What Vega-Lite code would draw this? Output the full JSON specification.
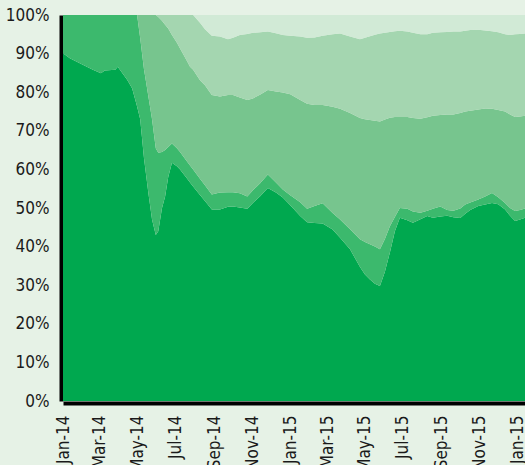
{
  "$schema": "https://vega.github.io/schema/vega-lite/v6.json",
  "width": 462,
  "height": 386,
  "autosize": {"type": "none"},
  "padding": {"left": 63, "top": 15, "right": 0, "bottom": 64},
  "background": "#e6f2e6",
  "config": {
    "view": {"stroke": null},
    "font": "DejaVu Sans Condensed, Liberation Sans Narrow, Arial Narrow, sans-serif",
    "axis": {"labelFont": "DejaVu Sans Condensed, Liberation Sans Narrow, Arial Narrow, sans-serif", "labelColor": "#1a1a1a", "grid": false, "ticks": false, "domainColor": "#000000", "domainWidth": 4}
  },
  "data": {
    "values": [
      {"date": "2014-01-01", "a": 90.1, "b": 9.9, "c": 0, "d": 0, "e": 0},
      {"date": "2014-01-12", "a": 88.8, "b": 11.2, "c": 0, "d": 0, "e": 0},
      {"date": "2014-01-28", "a": 87.5, "b": 12.5, "c": 0, "d": 0, "e": 0},
      {"date": "2014-02-18", "a": 85.8, "b": 14.2, "c": 0, "d": 0, "e": 0},
      {"date": "2014-03-03", "a": 84.9, "b": 15.1, "c": 0, "d": 0, "e": 0},
      {"date": "2014-03-09", "a": 85.6, "b": 14.4, "c": 0, "d": 0, "e": 0},
      {"date": "2014-03-26", "a": 85.8, "b": 14.2, "c": 0, "d": 0, "e": 0},
      {"date": "2014-03-30", "a": 86.6, "b": 13.4, "c": 0, "d": 0, "e": 0},
      {"date": "2014-04-14", "a": 83.2, "b": 16.8, "c": 0, "d": 0, "e": 0},
      {"date": "2014-04-22", "a": 81.0, "b": 19.0, "c": 0, "d": 0, "e": 0},
      {"date": "2014-04-30", "a": 76.3, "b": 23.7, "c": 0, "d": 0, "e": 0},
      {"date": "2014-05-05", "a": 73.0, "b": 21.0, "c": 6.0, "d": 0, "e": 0},
      {"date": "2014-05-11", "a": 63.0, "b": 23.0, "c": 14.0, "d": 0, "e": 0},
      {"date": "2014-05-18", "a": 54.0, "b": 25.0, "c": 21.0, "d": 0, "e": 0},
      {"date": "2014-05-24", "a": 47.0, "b": 26.0, "c": 27.0, "d": 0, "e": 0},
      {"date": "2014-05-30", "a": 43.0, "b": 22.5, "c": 34.5, "d": 0, "e": 0},
      {"date": "2014-06-03", "a": 44.0, "b": 20.3, "c": 35.2, "d": 0.5, "e": 0},
      {"date": "2014-06-09", "a": 50.0, "b": 14.5, "c": 34.0, "d": 1.5, "e": 0},
      {"date": "2014-06-14", "a": 53.0, "b": 12.0, "c": 32.5, "d": 2.5, "e": 0},
      {"date": "2014-06-19", "a": 58.0, "b": 7.8, "c": 30.7, "d": 3.5, "e": 0},
      {"date": "2014-06-25", "a": 61.7, "b": 5.0, "c": 28.1, "d": 5.2, "e": 0},
      {"date": "2014-07-03", "a": 60.8, "b": 4.7, "c": 27.3, "d": 7.2, "e": 0},
      {"date": "2014-07-08", "a": 60.0, "b": 4.5, "c": 26.8, "d": 8.7, "e": 0},
      {"date": "2014-07-18", "a": 57.9, "b": 4.4, "c": 26.1, "d": 11.6, "e": 0},
      {"date": "2014-07-24", "a": 56.6, "b": 4.4, "c": 25.6, "d": 13.4, "e": 0},
      {"date": "2014-07-29", "a": 55.6, "b": 4.4, "c": 25.8, "d": 14.2, "e": 0},
      {"date": "2014-08-09", "a": 53.4, "b": 4.2, "c": 25.5, "d": 14.9, "e": 2.0},
      {"date": "2014-08-17", "a": 51.8, "b": 4.1, "c": 25.9, "d": 14.5, "e": 3.7},
      {"date": "2014-08-28", "a": 49.6, "b": 3.9, "c": 25.8, "d": 15.3, "e": 5.4},
      {"date": "2014-09-10", "a": 49.6, "b": 4.4, "c": 24.9, "d": 15.5, "e": 5.6},
      {"date": "2014-09-23", "a": 50.3, "b": 3.8, "c": 25.2, "d": 14.4, "e": 6.3},
      {"date": "2014-10-01", "a": 50.4, "b": 3.7, "c": 25.2, "d": 14.8, "e": 5.9},
      {"date": "2014-10-12", "a": 50.1, "b": 3.7, "c": 24.8, "d": 16.2, "e": 5.2},
      {"date": "2014-10-24", "a": 49.8, "b": 3.2, "c": 25.0, "d": 17.1, "e": 4.9},
      {"date": "2014-11-02", "a": 51.3, "b": 3.3, "c": 23.8, "d": 17.0, "e": 4.6},
      {"date": "2014-11-14", "a": 53.1, "b": 3.4, "c": 22.9, "d": 16.1, "e": 4.5},
      {"date": "2014-11-26", "a": 55.2, "b": 3.5, "c": 21.9, "d": 15.1, "e": 4.3},
      {"date": "2014-12-09", "a": 54.0, "b": 2.6, "c": 23.6, "d": 15.1, "e": 4.7},
      {"date": "2014-12-20", "a": 52.7, "b": 2.1, "c": 25.1, "d": 14.9, "e": 5.2},
      {"date": "2015-01-01", "a": 50.7, "b": 2.6, "c": 26.2, "d": 15.1, "e": 5.4},
      {"date": "2015-01-17", "a": 47.9, "b": 3.6, "c": 26.5, "d": 16.4, "e": 5.6},
      {"date": "2015-01-28", "a": 46.3, "b": 3.5, "c": 27.2, "d": 17.1, "e": 5.9},
      {"date": "2015-02-09", "a": 46.1, "b": 4.4, "c": 26.2, "d": 17.5, "e": 5.8},
      {"date": "2015-02-22", "a": 46.0, "b": 5.2, "c": 25.5, "d": 17.9, "e": 5.4},
      {"date": "2015-03-10", "a": 44.4, "b": 4.3, "c": 27.5, "d": 18.8, "e": 5.0},
      {"date": "2015-03-22", "a": 42.3, "b": 4.7, "c": 28.7, "d": 19.5, "e": 4.8},
      {"date": "2015-04-07", "a": 39.3, "b": 5.2, "c": 30.1, "d": 19.8, "e": 5.6},
      {"date": "2015-04-23", "a": 34.7, "b": 7.2, "c": 31.4, "d": 20.4, "e": 6.3},
      {"date": "2015-05-01", "a": 32.8, "b": 8.4, "c": 31.8, "d": 21.1, "e": 5.9},
      {"date": "2015-05-09", "a": 31.5, "b": 9.1, "c": 32.2, "d": 21.7, "e": 5.5},
      {"date": "2015-05-17", "a": 30.4, "b": 9.6, "c": 32.6, "d": 22.3, "e": 5.1},
      {"date": "2015-05-25", "a": 29.8, "b": 9.5, "c": 33.1, "d": 22.8, "e": 4.8},
      {"date": "2015-06-02", "a": 33.5, "b": 8.5, "c": 30.9, "d": 22.5, "e": 4.6},
      {"date": "2015-06-10", "a": 38.5, "b": 6.8, "c": 28.1, "d": 22.2, "e": 4.4},
      {"date": "2015-06-18", "a": 44.0, "b": 3.7, "c": 25.9, "d": 22.2, "e": 4.2},
      {"date": "2015-06-26", "a": 47.5, "b": 2.5, "c": 23.6, "d": 22.3, "e": 4.1},
      {"date": "2015-07-08", "a": 46.8, "b": 3.0, "c": 23.8, "d": 22.1, "e": 4.3},
      {"date": "2015-07-17", "a": 46.2, "b": 2.9, "c": 24.2, "d": 22.1, "e": 4.6},
      {"date": "2015-07-29", "a": 47.1, "b": 1.7, "c": 24.3, "d": 21.9, "e": 5.0},
      {"date": "2015-08-09", "a": 47.9, "b": 1.4, "c": 24.2, "d": 21.5, "e": 5.0},
      {"date": "2015-08-18", "a": 47.5, "b": 2.3, "c": 24.1, "d": 21.5, "e": 4.6},
      {"date": "2015-08-30", "a": 47.8, "b": 2.6, "c": 23.7, "d": 21.4, "e": 4.5},
      {"date": "2015-09-10", "a": 48.0, "b": 1.5, "c": 24.7, "d": 21.4, "e": 4.4},
      {"date": "2015-09-20", "a": 47.6, "b": 1.7, "c": 24.9, "d": 21.5, "e": 4.3},
      {"date": "2015-10-01", "a": 47.4, "b": 2.5, "c": 24.7, "d": 21.1, "e": 4.3},
      {"date": "2015-10-09", "a": 48.5, "b": 2.4, "c": 24.1, "d": 20.9, "e": 4.1},
      {"date": "2015-10-17", "a": 49.5, "b": 1.9, "c": 23.8, "d": 20.9, "e": 3.9},
      {"date": "2015-10-30", "a": 50.5, "b": 1.7, "c": 23.3, "d": 20.7, "e": 3.8},
      {"date": "2015-11-10", "a": 50.9, "b": 2.1, "c": 22.8, "d": 20.2, "e": 4.0},
      {"date": "2015-11-21", "a": 51.3, "b": 2.6, "c": 21.8, "d": 20.1, "e": 4.2},
      {"date": "2015-12-01", "a": 51.0, "b": 1.8, "c": 22.6, "d": 20.1, "e": 4.5},
      {"date": "2015-12-12", "a": 49.6, "b": 1.7, "c": 23.7, "d": 20.0, "e": 5.0},
      {"date": "2015-12-20", "a": 48.0, "b": 2.0, "c": 24.2, "d": 20.6, "e": 5.2},
      {"date": "2015-12-28", "a": 46.6, "b": 2.6, "c": 24.4, "d": 21.4, "e": 5.0},
      {"date": "2016-01-05", "a": 47.0, "b": 2.5, "c": 24.2, "d": 21.4, "e": 4.9},
      {"date": "2016-01-13", "a": 47.5, "b": 2.4, "c": 24.0, "d": 21.3, "e": 4.8}
    ]
  },
  "transform": [
    {"fold": ["a", "b", "c", "d", "e"], "as": ["series", "share"]}
  ],
  "mark": {"type": "area", "interpolate": "linear"},
  "encoding": {
    "x": {
      "field": "date",
      "type": "temporal",
      "scale": {"domain": ["2014-01-01T00:00:00", "2016-01-13T00:00:00"], "nice": false},
      "axis": {
        "title": null,
        "tickCount": {"interval": "month", "step": 2},
        "labelAngle": -90,
        "labelAlign": "right",
        "labelBaseline": "middle",
        "labelFontSize": 17,
        "labelPadding": 12,
        "labelOverlap": false,
        "offset": 2,
        "labelExpr": "timeFormat(datum.value, '%b-%y') == 'Jan-16' ? 'Jan-15' : timeFormat(datum.value, '%b-%y')"
      }
    },
    "y": {
      "field": "share",
      "type": "quantitative",
      "stack": "normalize",
      "scale": {"domain": [0, 1], "nice": false},
      "axis": {
        "title": null,
        "format": ".0%",
        "values": [0, 0.1, 0.2, 0.3, 0.4, 0.5, 0.6, 0.7, 0.8, 0.9, 1],
        "labelFontSize": 17,
        "labelPadding": 12,
        "offset": 2
      }
    },
    "color": {
      "field": "series",
      "type": "nominal",
      "scale": {"domain": ["a", "b", "c", "d", "e"], "range": ["#00a84f", "#3cb96d", "#77c58e", "#a4d6b0", "#d1ead6"]},
      "legend": null
    },
    "order": {"field": "series", "sort": "ascending"}
  }
}
